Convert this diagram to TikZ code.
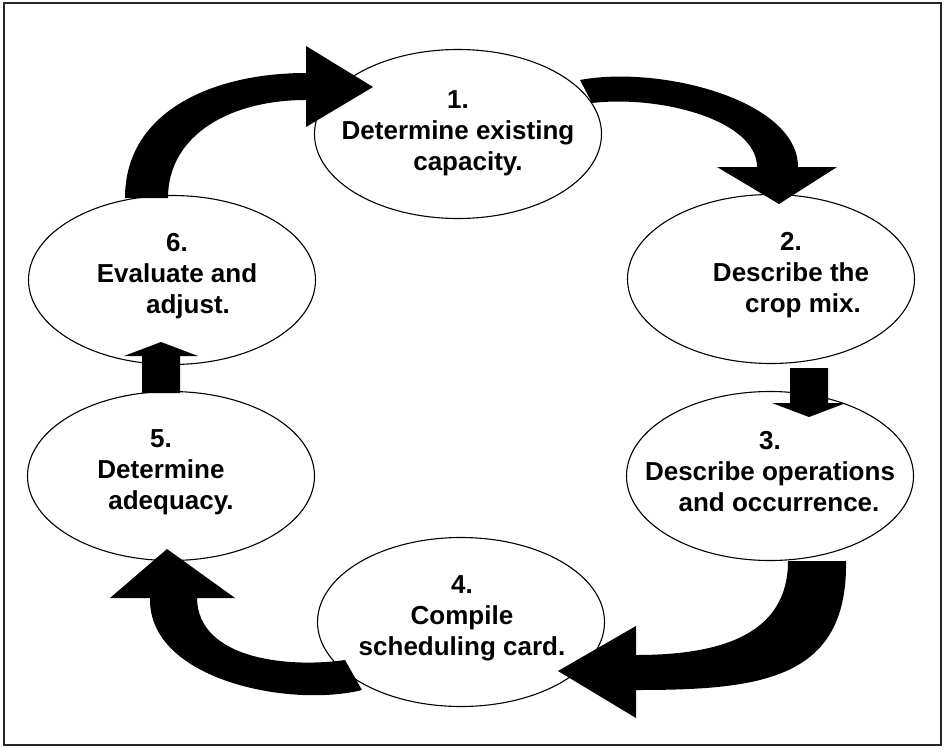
\documentclass[tikz,border=0pt]{standalone}
\usepackage{fontspec}
\setmainfont{Liberation Sans}
\usetikzlibrary{shapes.geometric}
\usetikzlibrary{positioning}
\tikzset{
    stage/.style = {ellipse, draw=black, line width=1.1pt, fill=white, minimum width=287pt, minimum height=169pt, inner sep=0pt},
    stagetext/.style = {align=center, inner sep=0pt, font=\bfseries\fontsize{26}{31}\selectfont, text=black},
    bigarrow/.style = {fill=black, draw=none},
    frame/.style = {draw=black!85, line width=1.8pt}
}

\begin{document}
\begin{tikzpicture}[x=1pt,y=-1pt]
\useasboundingbox (0,0) rectangle (947,747);
\draw[frame] (4,3) rectangle (941,745);

\node[stage, label={[stagetext, yshift=1pt]center:{1.\\Determine existing\\\hspace*{20pt}capacity.}}] at (458,134) (1) {};
\node[stage, label={[stagetext, xshift=20pt, yshift=4pt]center:{2.\\Describe the\\\hspace*{24pt}crop mix.}}] at (771,279) (2) {};
\node[stage, label={[stagetext, yshift=4pt]center:{3.\\Describe operations\\\hspace*{18pt}and occurrence.}}] at (770,476) (3) {};
\node[stage, label={[stagetext, xshift=1pt, yshift=4pt]center:{4.\\Compile\\scheduling card.}}] at (461,622) (4) {};
\node[stage, label={[stagetext, xshift=-10pt, yshift=4pt]center:{5.\\Determine\\\hspace*{20pt}adequacy.}}] at (171,476) (5) {};
\node[stage, label={[stagetext, xshift=5pt, yshift=4pt]center:{6.\\Evaluate and\\\hspace*{22pt}adjust.}}] at (172,280) (6) {};

% curved arrows, offsets from the node they leave
\fill[bigarrow, shift={(6)}] (-47,-82) .. controls (-47,-170) and (43,-207) .. (134,-207)
    -- (134,-234) -- (201,-193) -- (134,-153) -- (134,-180)
    .. controls (58,-180) and (-4,-145) .. (-4,-82) -- cycle;
\fill[bigarrow, shift={(1)}] (122,-54) .. controls (202,-69) and (340,-34) .. (340,33)
    -- (379,33) -- (321,70) -- (259,33) -- (299,33)
    .. controls (299,-14) and (202,-39) .. (134,-31) -- cycle;
\fill[bigarrow, shift={(2)}] (19,89) -- (57,89) -- (57,124) -- (75,124) -- (38,138) -- (1,124) -- (19,124) -- cycle;
\fill[bigarrow, shift={(3)}] (76,85) .. controls (78,204) and (-10,214) .. (-134,214)
    -- (-134,242) -- (-212,195) -- (-134,150) -- (-134,179)
    .. controls (-50,179) and (18,159) .. (18,85) -- cycle;
\fill[bigarrow, shift={(4)}] (-99,68) .. controls (-171,86) and (-313,58) .. (-311,-24)
    -- (-351,-24) -- (-294,-73) -- (-226,-24) -- (-264,-24)
    .. controls (-263,38) and (-171,46) .. (-116,38) -- cycle;
\fill[bigarrow, shift={(5)}] (-29,-83) -- (9,-83) -- (9,-120) -- (27,-120) -- (-10,-134) -- (-47,-120) -- (-29,-120) -- cycle;

\end{tikzpicture}
\end{document}
